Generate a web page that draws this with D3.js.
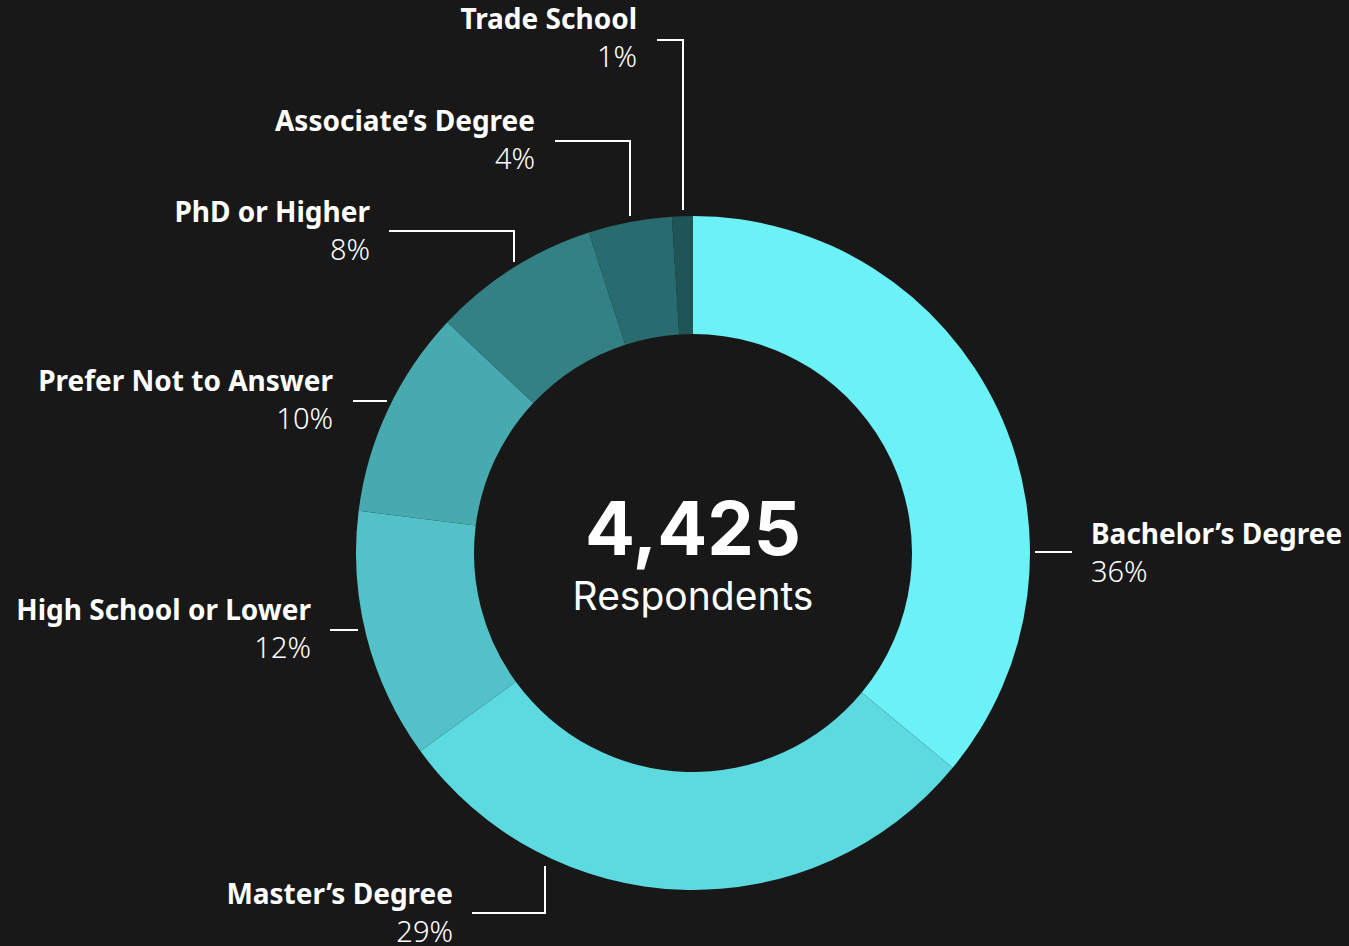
<!DOCTYPE html>
<html>
<head>
<meta charset="utf-8">
<script src="https://cdn.jsdelivr.net/npm/d3@7"></script>
<style>
  body { margin: 0; background: #181818; }
  svg { display: block; }
</style>
</head>
<body>
<svg id="donut" width="1349" height="946"></svg>
<script>
var categories = ["Bachelor’s Degree", "Master’s Degree", "High School or Lower", "Prefer Not to Answer", "PhD or Higher", "Associate’s Degree", "Trade School"];
var shares = [36, 29, 12, 10, 8, 4, 1];
var colors = ["#6cf1f7", "#5ddae0", "#53c2c8", "#46aaaf", "#338085", "#286c6f", "#1f5557"];
var total = "4,425";
var totalLabel = "Respondents";

// leader layout (relative to chart center): line points + label anchor
var labelLayout = [
    { pts: [[342, -1], [379, -1]], x: 398, y: -9, anchor: "start" },
    { pts: [[-148, 313], [-148, 360], [-221, 360]], x: -240, y: 351, anchor: "end" },
    { pts: [[-335, 77], [-363, 77]], x: -382, y: 67, anchor: "end" },
    { pts: [[-306, -152], [-340, -152]], x: -360, y: -162, anchor: "end" },
    { pts: [[-179, -291], [-179, -322], [-304, -322]], x: -323, y: -331, anchor: "end" },
    { pts: [[-63, -337], [-63, -412], [-138, -412]], x: -158, y: -422, anchor: "end" },
    { pts: [[-10, -343], [-10, -513], [-36, -513]], x: -56, y: -524, anchor: "end" }
];

var cx = 693, cy = 553;
var outerR = 337, innerR = 219;

var svg = d3.select("#donut");
var g = svg.append("g").attr("transform", "translate(" + cx + "," + cy + ")");

var pie = d3.pie().sort(null).value(function (d) { return d; });
var arc = d3.arc().innerRadius(innerR).outerRadius(outerR);

g.selectAll("path").data(pie(shares)).enter()
    .append("path")
    .attr("d", arc)
    .style("fill", function (d, i) { return colors[i]; });

// leader lines
g.selectAll("polyline").data(labelLayout).enter()
    .append("polyline")
    .attr("points", function (d) { return d.pts.map(function (p) { return p.join(","); }).join(" "); })
    .style("fill", "none")
    .style("stroke", "#ffffff")
    .style("stroke-width", 2);

var labels = g.selectAll("g.lbl").data(labelLayout).enter()
    .append("g").attr("class", "lbl");

labels.append("text")
    .attr("x", function (d) { return d.x; })
    .attr("y", function (d) { return d.y; })
    .attr("text-anchor", function (d) { return d.anchor; })
    .attr("font-family", "'Noto Sans', sans-serif")
    .attr("font-weight", "bold")
    .attr("font-size", "28px")
    .attr("fill", "#ffffff")
    .text(function (d, i) { return categories[i]; });

labels.append("text")
    .attr("x", function (d) { return d.x; })
    .attr("y", function (d) { return d.y + 38; })
    .attr("text-anchor", function (d) { return d.anchor; })
    .attr("font-family", "'Noto Sans', sans-serif")
    .attr("font-weight", "300")
    .attr("font-size", "29px")
    .attr("fill", "#ffffff")
    .text(function (d, i) { return shares[i] + "%"; });

// center text
g.append("text")
    .attr("x", 0)
    .attr("y", 2)
    .attr("text-anchor", "middle")
    .attr("font-family", "Inter, 'Noto Sans', sans-serif")
    .attr("font-weight", "bold")
    .attr("font-size", "74px")
    .attr("fill", "#ffffff")
    .text(total);

g.append("text")
    .attr("x", 0)
    .attr("y", 57)
    .attr("text-anchor", "middle")
    .attr("font-family", "Inter, 'Noto Sans', sans-serif")
    .attr("font-size", "39px")
    .attr("fill", "#ffffff")
    .text(totalLabel);
</script>
</body>
</html>
